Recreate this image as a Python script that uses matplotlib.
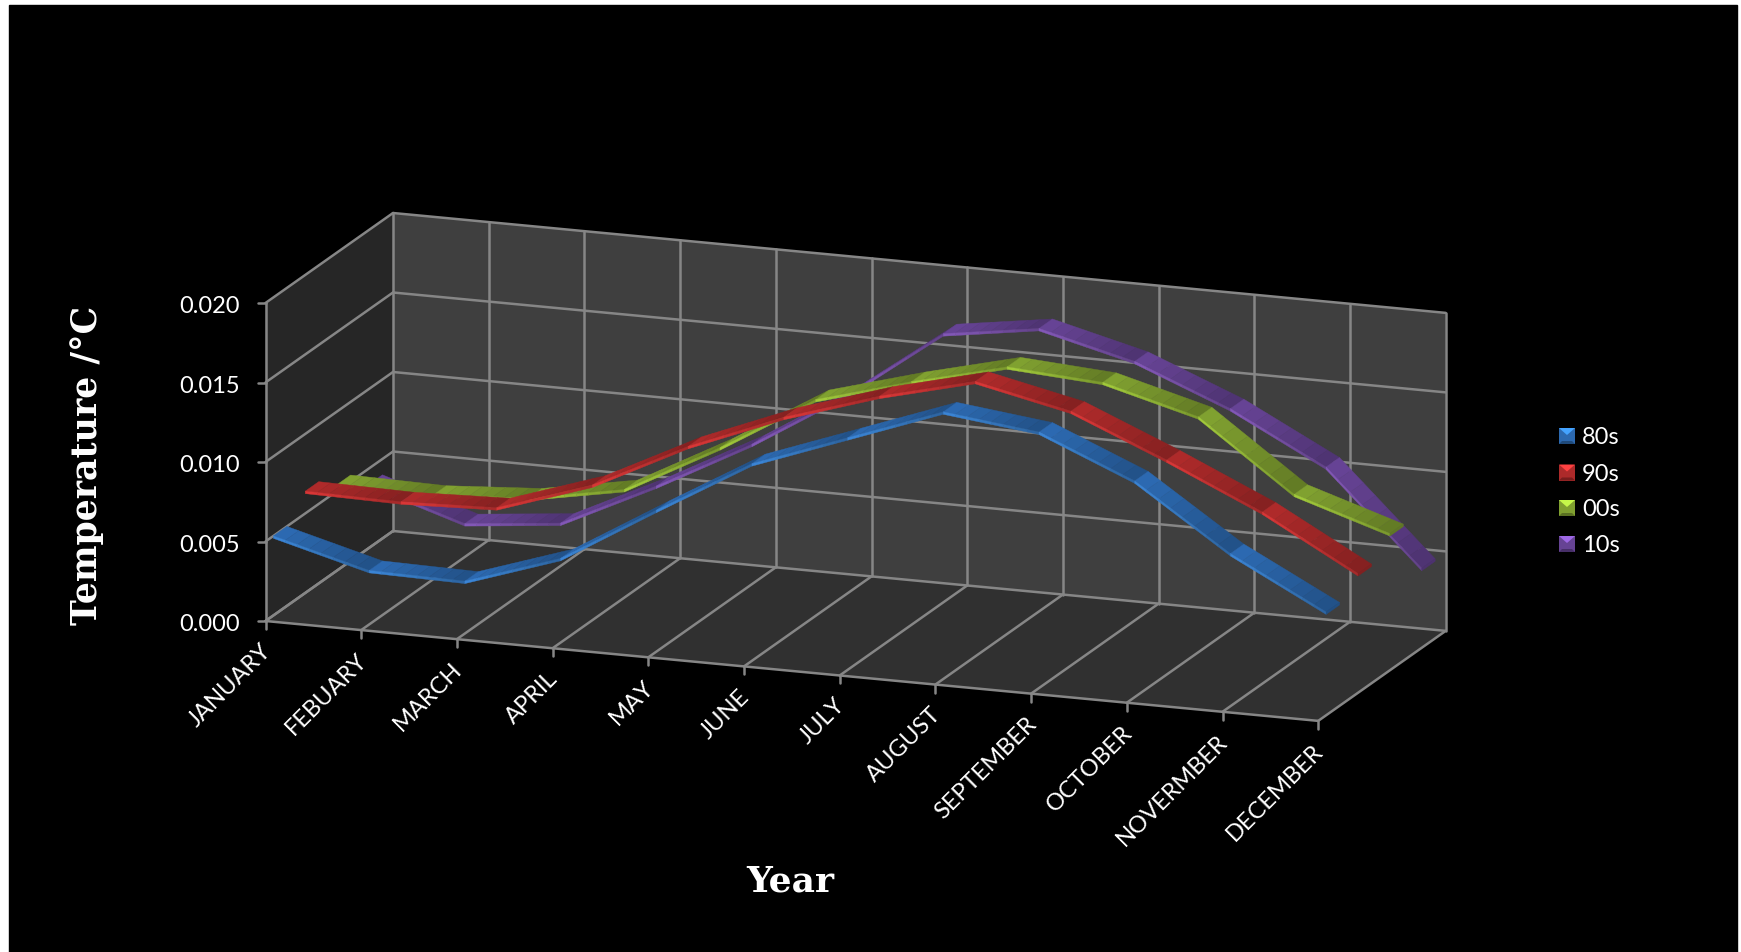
import numpy as np
import matplotlib
matplotlib.use("Agg")
import matplotlib.pyplot as plt
from matplotlib.patches import Polygon, Rectangle

# categorias e valores
months = ["JANUARY", "FEBUARY", "MARCH", "APRIL", "MAY", "JUNE", "JULY", "AUGUST",
          "SEPTEMBER", "OCTOBER", "NOVERMBER", "DECEMBER"]
v80s = [0.0050, 0.0034, 0.0033, 0.0053, 0.0089, 0.0124, 0.0146, 0.0168, 0.0161, 0.0136, 0.0096, 0.0065]
v90s = [0.0064, 0.0063, 0.0065, 0.0085, 0.0115, 0.0139, 0.0158, 0.0173, 0.0160, 0.0135, 0.0108, 0.0075]
v00s = [0.0054, 0.0053, 0.0057, 0.0068, 0.0100, 0.0136, 0.0153, 0.0168, 0.0164, 0.0148, 0.0105, 0.0086]
v10s = [0.0040, 0.0021, 0.0027, 0.0056, 0.0088, 0.0125, 0.0169, 0.0178, 0.0163, 0.0139, 0.0108, 0.0050]
series_names = ["80s", "90s", "00s", "10s"]
yticks = [0.000, 0.005, 0.010, 0.015, 0.020]

series_values = [v80s, v90s, v00s, v10s]
top_colors = ["#2c69b0", "#ad2a2a", "#80a030", "#664394"]
edge_colors = ["#3a84d4", "#d83636", "#a0c83a", "#8257b6"]
depth_front = [0.0625, 0.3125, 0.5625, 0.8125]
ribbon_width = 0.105

# projecao do grafico 3D para pixels da figura
ORIGIN = np.array([265.5, 622.0])
STEP_MONTH = np.array([95.7, 9.08])
STEP_DEPTH = np.array([127.5, -90.0])
STEP_VALUE = np.array([0.0, -15900.0])


def project(month, depth, value):
    return ORIGIN + month * STEP_MONTH + depth * STEP_DEPTH + value * STEP_VALUE


def shade(color, factor):
    rgb = np.array(matplotlib.colors.to_rgb(color)) * factor
    return tuple(np.clip(rgb, 0, 1))


plt.rcParams['font.family'] = ['Lato', 'DejaVu Sans']
fig = plt.figure(figsize=(17.41, 9.53), dpi=100, facecolor="white")
ax = fig.add_axes([0, 0, 1, 1])
ax.set_xlim(0, 1741)
ax.set_ylim(953, 0)
ax.axis("off")
ax.add_patch(Rectangle((9, 6), 1728, 947, color="black", zorder=0))

last = len(months) - 1
top = yticks[-1]

# paredes e chao
floor = [project(0, 0, 0), project(last, 0, 0), project(last, 1, 0), project(0, 1, 0)]
side = [project(0, 0, 0), project(0, 1, 0), project(0, 1, top), project(0, 0, top)]
back = [project(0, 1, 0), project(last, 1, 0), project(last, 1, top), project(0, 1, top)]
ax.add_patch(Polygon(floor, color="#303030", lw=0, zorder=1))
ax.add_patch(Polygon(side, color="#262626", lw=0, zorder=1))
ax.add_patch(Polygon(back, color="#3f3f3f", lw=0, zorder=1))

# grades
grid_color = "#868686"


def grid_line(a, b):
    ax.plot([a[0], b[0]], [a[1], b[1]], color=grid_color, lw=1.8, zorder=2, solid_capstyle="round")


for v in yticks:
    grid_line(project(0, 0, v), project(0, 1, v))
    grid_line(project(0, 1, v), project(last, 1, v))
    grid_line(project(0, 0, v), project(0, 0, v) + np.array([-8, 0]))
    ax.text(240, project(0, 0, v)[1] + 3, "%.3f" % v, color="white", fontsize=17, ha="right", va="center", zorder=6)

for i in range(len(months)):
    grid_line(project(i, 0, 0), project(i, 1, 0))
    grid_line(project(i, 1, 0), project(i, 1, top))
    p = project(i, 0, 0)
    grid_line(p, p + np.array([0, 8]))
    ax.text(p[0] - 5.5, p[1] + 18.5, months[i], color="white", fontsize=17, rotation=45,
            rotation_mode="anchor", ha="right", va="top", zorder=6)

grid_line(project(0, 0, 0), project(last, 0, 0))
grid_line(project(0, 0, 0), project(0, 0, top))

# fitas, de tras para frente
thick = 2.5
slices = 8
order = 10
for s in range(3, -1, -1):
    vals = series_values[s]
    d0 = depth_front[s]
    d1 = d0 + ribbon_width
    for i in range(last):
        f0 = project(i, d0, vals[i])
        f1 = project(i + 1, d0, vals[i + 1])
        b0 = project(i, d1, vals[i])
        b1 = project(i + 1, d1, vals[i + 1])
        for k in range(slices):
            t0 = k / slices
            t1 = (k + 1) / slices
            factor = 1.02 - 0.26 * (t0 + t1) / 2
            pts = [f0 + (f1 - f0) * t0, f0 + (f1 - f0) * t1, b0 + (b1 - b0) * t1, b0 + (b1 - b0) * t0]
            ax.add_patch(Polygon(pts, color=shade(top_colors[s], factor), lw=0.3, zorder=order))
            down = np.array([0, thick])
            strip = [pts[0], pts[1], pts[1] + down, pts[0] + down]
            ax.add_patch(Polygon(strip, color=shade(edge_colors[s], factor), lw=0.3, zorder=order + 1))
        order += 2
    # tampa do fim da fita
    f = project(last, d0, vals[last])
    b = project(last, d1, vals[last])
    cap = [f, b, b + np.array([0, thick]), f + np.array([0, thick])]
    ax.add_patch(Polygon(cap, color=shade(top_colors[s], 0.75), lw=0.3, zorder=order))
    order += 1

# titulos dos eixos
ax.text(87, 465, "Temperature /°C", color="white", fontsize=25, fontweight="bold",
        family="DejaVu Serif", rotation=90, ha="center", va="center", zorder=6)
ax.text(790, 882, "Year", color="white", fontsize=26, fontweight="bold",
        family="DejaVu Serif", ha="center", va="center", zorder=6)

# legenda
legend_y = [437, 473.5, 509, 545]
for name, y, c in zip(series_names, legend_y, top_colors):
    x0, x1 = 1559, 1575
    y0, y1 = y - 8, y + 8
    xm = (x0 + x1) / 2
    ax.add_patch(Rectangle((x0, y0), x1 - x0, y1 - y0, color=c, lw=0, zorder=6))
    ax.add_patch(Polygon([(x0, y0), (x1, y0), (xm, y0 + 7)], color=shade(c, 1.55), lw=0, zorder=7))
    ax.add_patch(Polygon([(x0, y1), (x1, y1), (x1 - 3, y1 - 3), (x0 + 3, y1 - 3)], color=shade(c, 0.7), lw=0, zorder=7))
    ax.text(1582, y + 1, name, color="white", fontsize=17, ha="left", va="center", zorder=6)

fig.savefig("out.png", dpi=100, facecolor="white")
